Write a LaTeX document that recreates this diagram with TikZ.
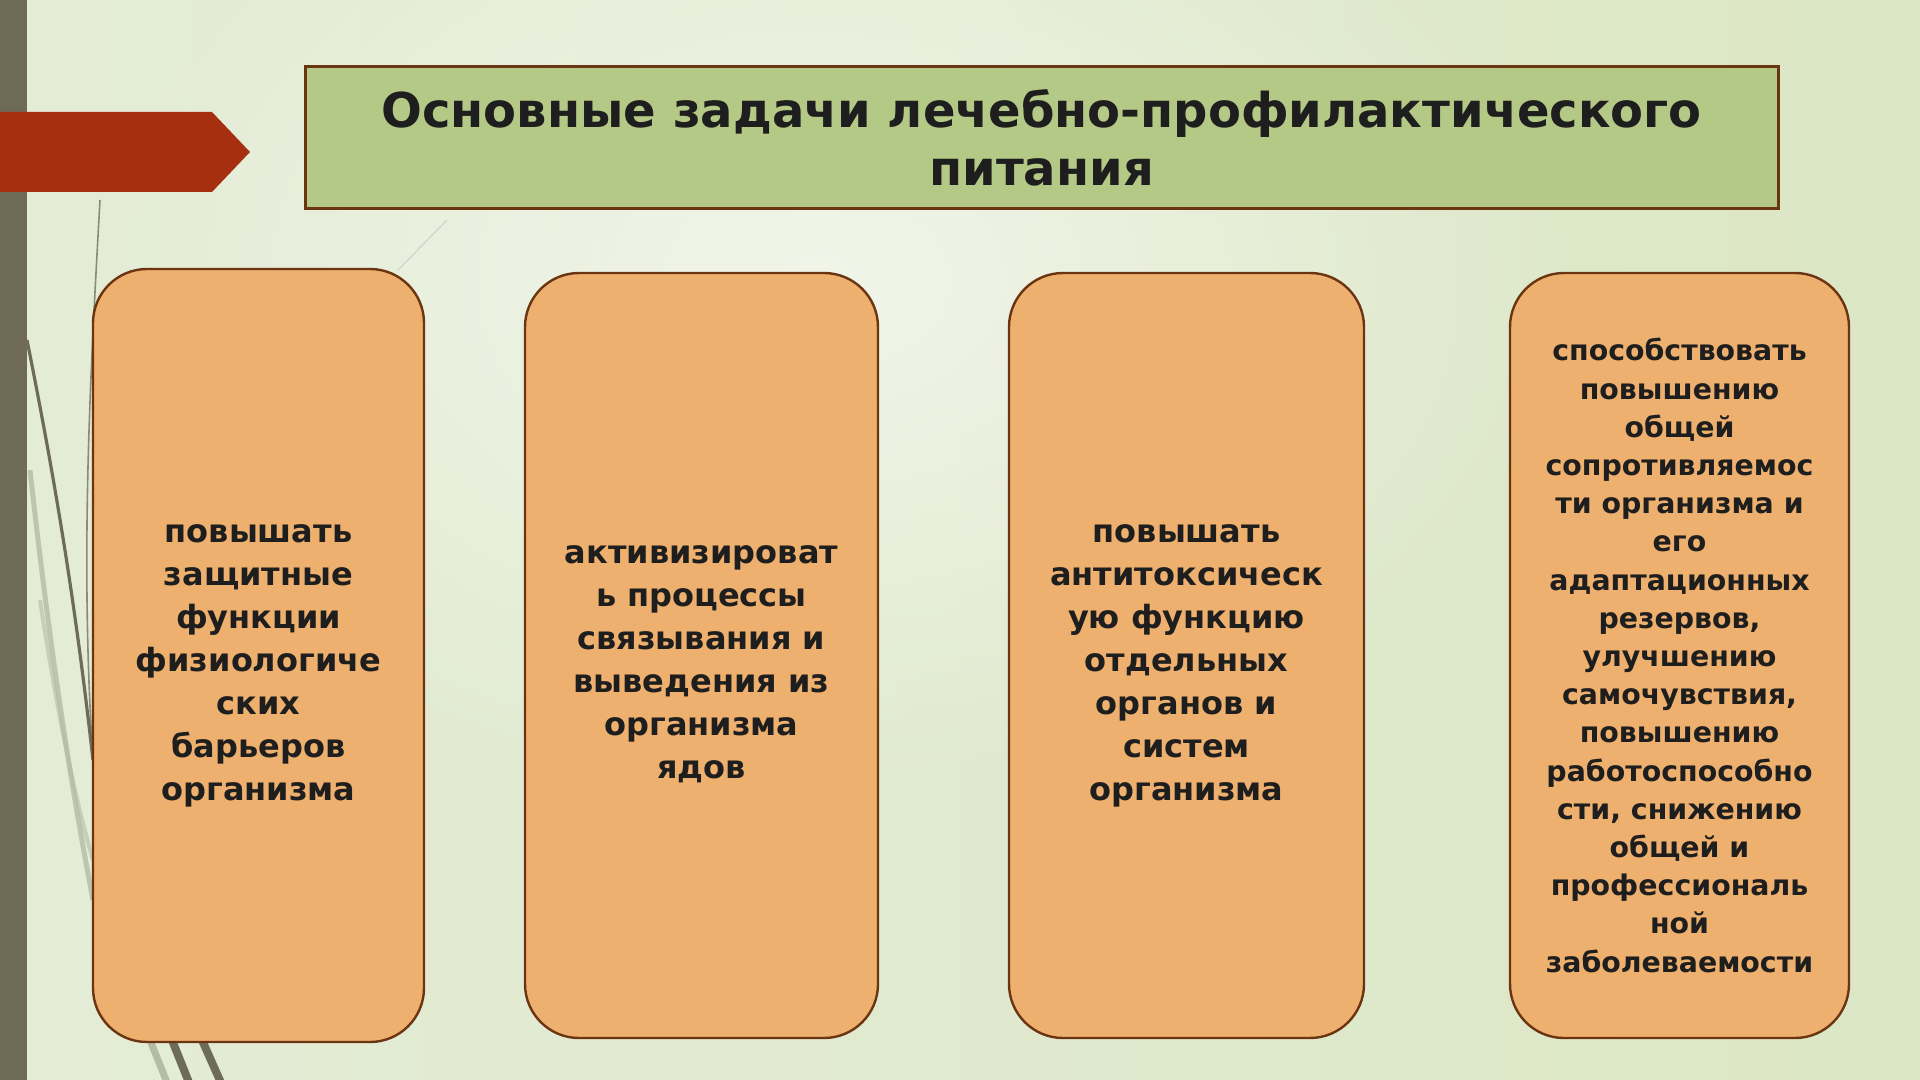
\documentclass[tikz,border=0pt]{standalone}
\usepackage{fontspec}
\setmainfont{DejaVu Sans}
\usetikzlibrary{fadings}
\tikzfading[name=glowfade, inner color=transparent!0, outer color=transparent!100]
\definecolor{bgL}{HTML}{E4ECD6}
\definecolor{bgM}{HTML}{F3F6EC}
\definecolor{bgR}{HTML}{DCE7C6}
\definecolor{barC}{HTML}{6E6A55}
\definecolor{arrowC}{HTML}{A52F0E}
\definecolor{titleF}{HTML}{B5C987}
\definecolor{edgeC}{HTML}{6B3512}
\definecolor{boxF}{HTML}{EEB06E}
\definecolor{txtC}{HTML}{1E1E1E}
\definecolor{grassD}{HTML}{6E6C58}
\definecolor{grassL}{HTML}{B4BCA6}
% text lowered a little inside its box, keeping the box centred
\newcommand\lowtext[1]{\raisebox{-3.6pt}[\height][\depth]{\begin{tabular}{@{}c@{}}#1\end{tabular}}}
\begin{document}
\begin{tikzpicture}[x=0.5pt,y=-0.5pt,
  taskbox/.style={draw=edgeC, line width=1.2pt, fill=boxF, rounded corners=27pt,
    align=center, text=txtC, inner sep=0pt, font=\fontsize{16}{21.5}\selectfont\bfseries},
  smalltext/.style={font=\fontsize{14.2}{19.1}\selectfont\bfseries},
  titlebox/.style={draw=edgeC, line width=1.5pt, fill=titleF, align=center, text=txtC,
    inner sep=0pt, font=\fontsize{24}{29}\selectfont\bfseries}]
\useasboundingbox (0,0) rectangle (1920,1080);
% background
\shade[left color=bgL, middle color=bgM, right color=bgR] (0,0) rectangle (1920,1080);
\fill[white, opacity=0.55, path fading=glowfade] (820,280) ellipse [x radius=760, y radius=520];
% decorative grass lines
\draw[grassD!80, line width=0.8pt] (100,200) .. controls (90,380) and (80,560) .. (93,760);
\draw[grassD, line width=1.6pt] (27,340) .. controls (55,480) and (75,600) .. (93,760);
\draw[grassL, line width=2.5pt, opacity=0.8] (30,470) .. controls (50,650) and (70,780) .. (93,900);
\draw[grassL, line width=2pt, opacity=0.6] (40,600) .. controls (55,700) and (75,800) .. (93,860);
\draw[grassL, line width=3.5pt] (150,1040) -- (168,1085);
\draw[grassD, line width=4pt] (172,1040) -- (190,1085);
\draw[grassD, line width=4pt] (202,1040) -- (222,1085);
\draw[gray!35, line width=0.6pt] (447,220) -- (398,270);
% left bar and red arrow
\fill[barC] (0,0) rectangle (27,1080);
\fill[arrowC] (0,112) -- (212,112) -- (250,152) -- (212,192) -- (0,192) -- cycle;
% title
\node[titlebox, minimum width=736.5pt, minimum height=71pt] (title) at (1041.5,138)
  {Основные задачи лечебно-профилактического\\питания};
% task boxes
\node[taskbox, minimum width=165.5pt, minimum height=386.5pt] (b1) at (258.5,655.5)
  {\lowtext{повышать\\защитные\\функции\\физиологиче\\ских\\барьеров\\организма}};
\node[taskbox, minimum width=176.5pt, minimum height=382.5pt] (b2) at (701.5,655.5)
  {\lowtext{активизироват\\ь процессы\\связывания и\\выведения из\\организма\\ядов}};
\node[taskbox, minimum width=177.5pt, minimum height=382.5pt] (b3) at (1186.5,655.5)
  {\lowtext{повышать\\антитоксическ\\ую функцию\\отдельных\\органов и\\систем\\организма}};
\node[taskbox, smalltext, minimum width=169.5pt, minimum height=382.5pt] (b4) at (1679.5,655.5)
  {способствовать\\повышению\\общей\\сопротивляемос\\ти организма и\\его\\адаптационных\\резервов,\\улучшению\\самочувствия,\\повышению\\работоспособно\\сти, снижению\\общей и\\профессиональ\\ной\\заболеваемости};
\end{tikzpicture}
\end{document}
